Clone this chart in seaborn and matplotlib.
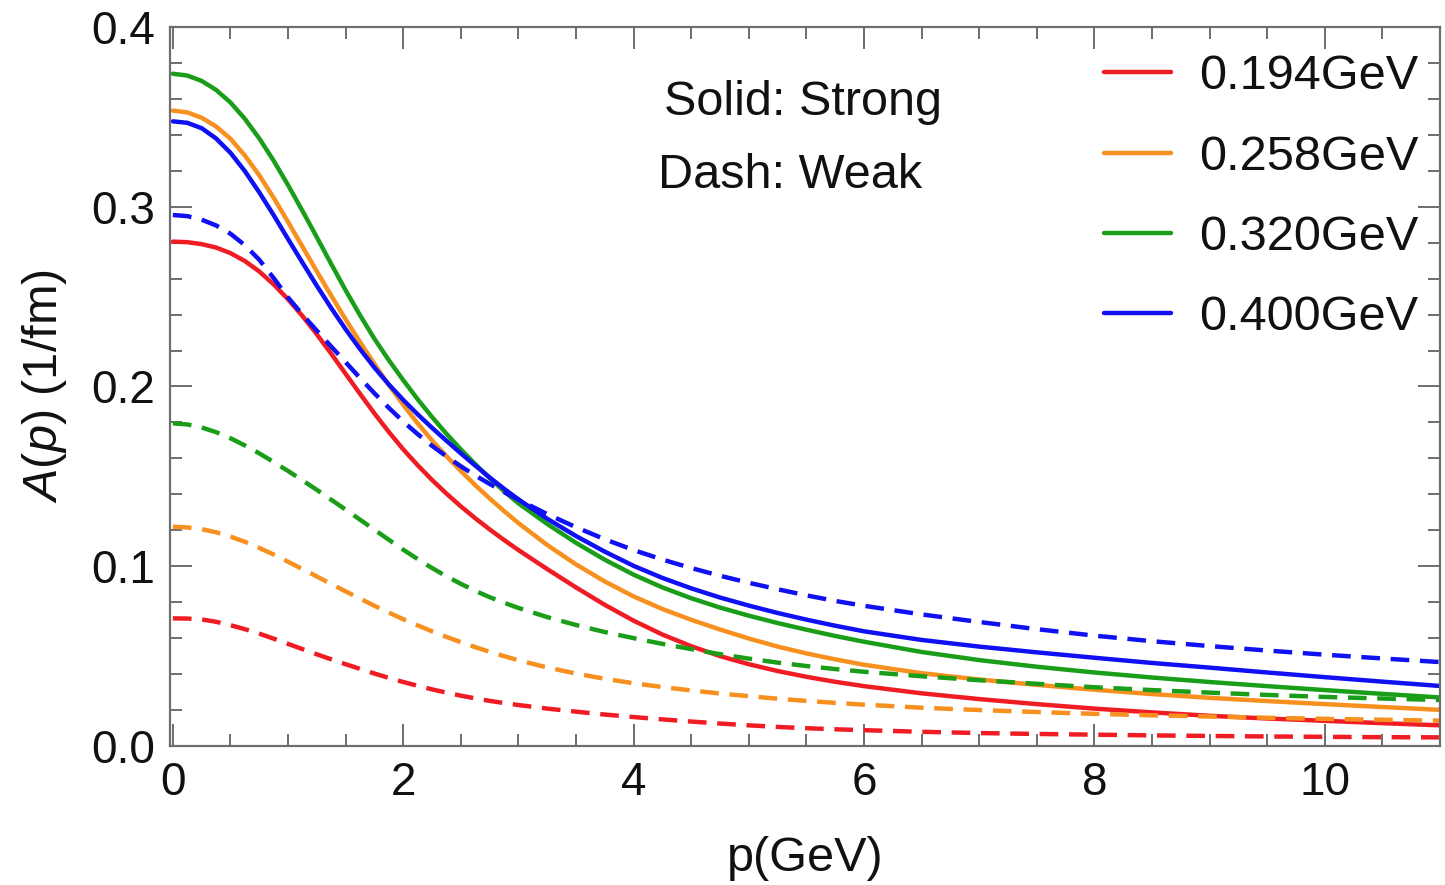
import numpy as np
import pandas as pd
import matplotlib
matplotlib.use("Agg")
import matplotlib.pyplot as plt
from matplotlib.lines import Line2D
from matplotlib.ticker import MultipleLocator, AutoMinorLocator, FormatStrFormatter
import seaborn as sns

# momentum grid (GeV)
p = [0, 0.125, 0.25, 0.375, 0.5, 0.625, 0.75, 0.875, 1, 1.125, 1.25, 1.375, 1.5, 1.625,
     1.75, 1.875, 2, 2.125, 2.25, 2.375, 2.5, 2.625, 2.75, 2.875, 3, 3.25, 3.5, 3.75, 4,
     4.25, 4.5, 4.75, 5, 5.25, 5.5, 5.75, 6, 6.5, 7, 7.5, 8, 8.5, 9, 9.5, 10, 10.5, 11]

masses = ["0.194GeV", "0.258GeV", "0.320GeV", "0.400GeV"]

# strong coupling (solid)
strong_0194 = [0.2806, 0.2803, 0.2792, 0.2773, 0.2742, 0.2698, 0.2640, 0.2568, 0.2485, 0.2392,
               0.2290, 0.2182, 0.2070, 0.1959, 0.1850, 0.1747, 0.1650, 0.1562, 0.1480, 0.1404,
               0.1333, 0.1267, 0.1205, 0.1146, 0.1090, 0.0984, 0.0882, 0.0785, 0.0697, 0.0620,
               0.0555, 0.0500, 0.0455, 0.0417, 0.0385, 0.0357, 0.0333, 0.0293, 0.0261, 0.0233,
               0.0208, 0.0187, 0.0168, 0.0153, 0.0140, 0.0127, 0.0115]
strong_0258 = [0.3535, 0.3525, 0.3495, 0.3447, 0.3378, 0.3285, 0.3175, 0.3050, 0.2915, 0.2778,
               0.2640, 0.2505, 0.2373, 0.2247, 0.2125, 0.2008, 0.1898, 0.1795, 0.1700, 0.1612,
               0.1530, 0.1451, 0.1377, 0.1307, 0.1240, 0.1118, 0.1010, 0.0915, 0.0832, 0.0762,
               0.0702, 0.0648, 0.0598, 0.0553, 0.0515, 0.0482, 0.0452, 0.0405, 0.0370, 0.0340,
               0.0313, 0.0289, 0.0268, 0.0250, 0.0233, 0.0217, 0.0201]
strong_0320 = [0.3740, 0.3730, 0.3700, 0.3650, 0.3580, 0.3489, 0.3380, 0.3256, 0.3120, 0.2977,
               0.2830, 0.2681, 0.2535, 0.2396, 0.2265, 0.2146, 0.2035, 0.1929, 0.1830, 0.1737,
               0.1650, 0.1568, 0.1490, 0.1417, 0.1350, 0.1235, 0.1130, 0.1036, 0.0953, 0.0882,
               0.0822, 0.0770, 0.0725, 0.0684, 0.0647, 0.0612, 0.0580, 0.0523, 0.0478, 0.0441,
               0.0409, 0.0381, 0.0356, 0.0333, 0.0311, 0.0290, 0.0270]
strong_0400 = [0.3475, 0.3467, 0.3437, 0.3380, 0.3300, 0.3198, 0.3080, 0.2953, 0.2820, 0.2689,
               0.2560, 0.2436, 0.2318, 0.2208, 0.2105, 0.2011, 0.1925, 0.1845, 0.1770, 0.1698,
               0.1628, 0.1560, 0.1494, 0.1431, 0.1372, 0.1264, 0.1168, 0.1081, 0.1002, 0.0935,
               0.0877, 0.0826, 0.0781, 0.0740, 0.0703, 0.0669, 0.0638, 0.0590, 0.0553, 0.0521,
               0.0491, 0.0462, 0.0436, 0.0409, 0.0383, 0.0358, 0.0334]

# weak coupling (dashed)
weak_0194 = [0.0710, 0.0709, 0.0704, 0.0691, 0.0672, 0.0650, 0.0625, 0.0597, 0.0568, 0.0539,
             0.0510, 0.0482, 0.0455, 0.0429, 0.0403, 0.0379, 0.0356, 0.0335, 0.0315, 0.0297,
             0.0280, 0.0265, 0.0251, 0.0239, 0.0228, 0.0208, 0.0191, 0.0175, 0.0161, 0.0148,
             0.0136, 0.0125, 0.0115, 0.0106, 0.0099, 0.0093, 0.0088, 0.0079, 0.0072, 0.0067,
             0.0063, 0.0059, 0.0056, 0.0053, 0.0051, 0.0049, 0.0048]
weak_0258 = [0.1220, 0.1216, 0.1206, 0.1189, 0.1165, 0.1136, 0.1102, 0.1065, 0.1025, 0.0984,
             0.0943, 0.0901, 0.0860, 0.0820, 0.0780, 0.0742, 0.0705, 0.0671, 0.0638, 0.0607,
             0.0578, 0.0550, 0.0524, 0.0500, 0.0477, 0.0437, 0.0403, 0.0374, 0.0349, 0.0328,
             0.0309, 0.0292, 0.0277, 0.0263, 0.0251, 0.0240, 0.0230, 0.0213, 0.0200, 0.0189,
             0.0179, 0.0171, 0.0164, 0.0157, 0.0151, 0.0146, 0.0141]
weak_0320 = [0.1795, 0.1789, 0.1772, 0.1746, 0.1712, 0.1672, 0.1628, 0.1580, 0.1530, 0.1478,
             0.1425, 0.1370, 0.1315, 0.1259, 0.1203, 0.1147, 0.1092, 0.1040, 0.0990, 0.0944,
             0.0902, 0.0863, 0.0828, 0.0797, 0.0768, 0.0717, 0.0673, 0.0634, 0.0600, 0.0568,
             0.0539, 0.0511, 0.0486, 0.0464, 0.0445, 0.0428, 0.0413, 0.0388, 0.0366, 0.0346,
             0.0327, 0.0311, 0.0297, 0.0284, 0.0273, 0.0264, 0.0256]
weak_0400 = [0.2954, 0.2948, 0.2928, 0.2896, 0.2850, 0.2786, 0.2705, 0.2603, 0.2495, 0.2400,
             0.2310, 0.2222, 0.2135, 0.2047, 0.1962, 0.1881, 0.1805, 0.1735, 0.1670, 0.1611,
             0.1556, 0.1505, 0.1458, 0.1413, 0.1370, 0.1290, 0.1217, 0.1150, 0.1090, 0.1037,
             0.0990, 0.0947, 0.0908, 0.0872, 0.0838, 0.0807, 0.0780, 0.0732, 0.0690, 0.0650,
             0.0614, 0.0583, 0.0556, 0.0531, 0.0508, 0.0487, 0.0467]

colors = ["#f01c24", "#f7901e", "#1a9e1a", "#1010f5"]

strong = [strong_0194, strong_0258, strong_0320, strong_0400]
weak = [weak_0194, weak_0258, weak_0320, weak_0400]

frames = []
for m, s, w in zip(masses, strong, weak):
    frames.append(pd.DataFrame({"p": p, "A": s, "mass": m, "coupling": "Strong"}))
    frames.append(pd.DataFrame({"p": p, "A": w, "mass": m, "coupling": "Weak"}))
df = pd.concat(frames, ignore_index=True)

sns.set_style("ticks")
plt.rcParams["font.family"] = ["Liberation Sans", "DejaVu Sans"]
plt.rcParams["mathtext.fontset"] = "custom"
plt.rcParams["mathtext.rm"] = "Liberation Sans"
plt.rcParams["mathtext.it"] = "Liberation Sans:italic"

fig = plt.figure(figsize=(14.45, 8.85), dpi=100)
ax = fig.add_axes([170 / 1445, 1 - 746 / 885, 1270 / 1445, 719 / 885])

lw = 3.2
sns.lineplot(data=df, x="p", y="A", hue="mass", style="coupling",
             hue_order=masses, palette=colors,
             dashes={"Strong": "", "Weak": (4.2, 2.4)},
             estimator=None, sort=False, linewidth=lw, legend=False, ax=ax)

ax.set_xlim(-0.025, 11.0)
ax.set_ylim(0.0, 0.4)
ax.xaxis.set_major_locator(MultipleLocator(2))
ax.xaxis.set_minor_locator(AutoMinorLocator(4))
ax.yaxis.set_major_locator(MultipleLocator(0.1))
ax.yaxis.set_minor_locator(AutoMinorLocator(5))
ax.yaxis.set_major_formatter(FormatStrFormatter("%.1f"))

spine_col = "#6e6e6e"
for sp in ax.spines.values():
    sp.set_color(spine_col)
    sp.set_linewidth(1.6)
ax.tick_params(which="both", direction="in", top=True, right=True,
               color=spine_col, width=1.4)
ax.tick_params(which="major", length=16, labelsize=33, pad=11, labelcolor="#111111")
ax.tick_params(which="minor", length=8.5)

ax.set_xlabel("p(GeV)", fontsize=35, labelpad=22, color="#111111")
ax.set_ylabel(r"$A(p)$ (1/fm)", fontsize=35, labelpad=16, color="#111111")

ax.text(4.26, 0.351, "Solid: Strong", fontsize=35, ha="left", va="baseline", color="#111111")
ax.text(4.21, 0.3104, "Dash: Weak", fontsize=35, ha="left", va="baseline", color="#111111")

handles = [Line2D([0], [0], color=c, lw=lw) for c in colors]
leg = ax.legend(handles, masses, loc="upper right", bbox_to_anchor=(0.998, 0.989),
                frameon=False, fontsize=35, handlelength=1.38, handletextpad=0.56,
                labelspacing=0.726, borderaxespad=0.0)
for t in leg.get_texts():
    t.set_color("#111111")

fig.savefig("out.png", dpi=100)
